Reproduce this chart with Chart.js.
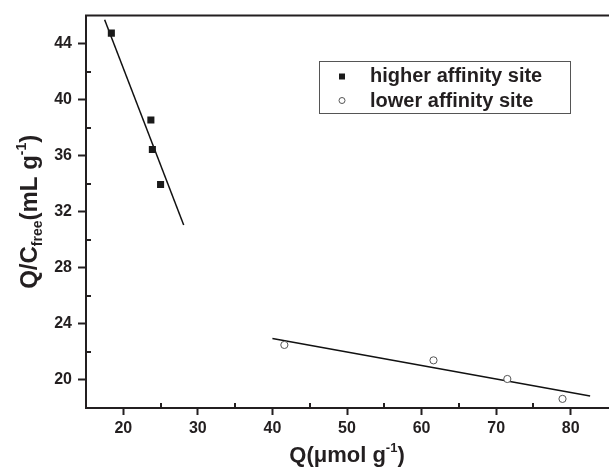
<!DOCTYPE html>
<html><head><meta charset="utf-8">
<script src="https://cdn.jsdelivr.net/npm/chart.js@4"></script>
<style>html,body{margin:0;padding:0;overflow:hidden;background:#fff}</style>
</head><body>
<canvas id="c" width="613" height="469"></canvas>
<script>
// ---- data ----
const highQ = [18.4, 23.7, 23.9, 25.0];
const highQC = [44.75, 38.55, 36.45, 33.95];
const lowQ = [41.6, 61.6, 71.5, 78.9];
const lowQC = [22.5, 21.4, 20.07, 18.65];
const highFitQ = [17.5, 28.1];
const highFitQC = [45.7, 31.06];
const lowFitQ = [40.0, 82.6];
const lowFitQC = [22.96, 18.86];
const xTicks = [20, 30, 40, 50, 60, 70, 80];
const yTicks = [20, 24, 28, 32, 36, 40, 44];
const xMinorTicks = [25, 35, 45, 55, 65, 75];
const yMinorTicks = [22, 26, 30, 34, 38, 42];
const seriesLabels = ['higher affinity site', 'lower affinity site'];

const FAMILY = "'Liberation Sans', Arial, Helvetica, sans-serif";
const INK = '#231f20';
const tickFont = {family: FAMILY, weight: 'bold', size: 16};

function pts(xs, ys) { return xs.map((x, i) => ({x: x, y: ys[i]})); }

const decor = {
  id: 'decor',
  afterDraw(chart) {
    const ctx = chart.ctx, ca = chart.chartArea;
    const xs = chart.scales.x, ys = chart.scales.y;
    ctx.save();
    // top frame line
    ctx.strokeStyle = INK; ctx.lineWidth = 2;
    ctx.beginPath(); ctx.moveTo(ca.left - 1, ca.top); ctx.lineTo(ca.right + 2, ca.top); ctx.stroke();
    // minor ticks (inward)
    ctx.lineWidth = 2;
    ctx.beginPath();
    xMinorTicks.forEach(v => { const px = Math.round(xs.getPixelForValue(v)); ctx.moveTo(px, ca.bottom); ctx.lineTo(px, ca.bottom - 5); });
    yMinorTicks.forEach(v => { const py = Math.round(ys.getPixelForValue(v)); ctx.moveTo(ca.left, py); ctx.lineTo(ca.left + 5, py); });
    ctx.stroke();

    // axis titles
    ctx.fillStyle = INK;
    function drawRich(parts, cx, base) {
      let total = 0;
      parts.forEach(p => { ctx.font = 'bold ' + p.size + 'px ' + FAMILY; p.w = ctx.measureText(p.t).width; total += p.w; });
      let x = cx - total / 2;
      ctx.textBaseline = 'alphabetic'; ctx.textAlign = 'left';
      parts.forEach(p => { ctx.font = 'bold ' + p.size + 'px ' + FAMILY; ctx.fillText(p.t, x, base + (p.dy || 0)); x += p.w; });
    }
    drawRich([
      {t: 'Q(\u03bcmol g', size: 22},
      {t: '-1', size: 13, dy: -10},
      {t: ')', size: 22}
    ], (ca.left + ca.right) / 2, 462);

    ctx.save();
    ctx.translate(37, (ca.top + ca.bottom) / 2);
    ctx.rotate(-Math.PI / 2);
    drawRich([
      {t: 'Q/C', size: 24},
      {t: 'free', size: 14, dy: 5},
      {t: '(mL g', size: 24},
      {t: '-1', size: 14, dy: -11},
      {t: ')', size: 24}
    ], 0, 0);
    ctx.restore();

    // legend
    ctx.lineWidth = 1; ctx.strokeStyle = '#555';
    ctx.strokeRect(319.5, 61.5, 251, 52);
    ctx.fillStyle = '#1a1a1a';
    ctx.fillRect(339, 73.5, 6, 6);
    ctx.fillStyle = '#fff'; ctx.strokeStyle = '#555';
    ctx.beginPath(); ctx.arc(342, 100.5, 3, 0, Math.PI * 2); ctx.fill(); ctx.stroke();
    ctx.fillStyle = INK;
    ctx.font = 'bold 20px ' + FAMILY; ctx.textAlign = 'left'; ctx.textBaseline = 'alphabetic';
    ctx.fillText(chart.data.datasets[0].label, 370, 82);
    ctx.fillText(chart.data.datasets[1].label, 370, 106.5);
    ctx.restore();
  }
};

new Chart(document.getElementById('c'), {
  type: 'scatter',
  data: {
    datasets: [
      {label: seriesLabels[0], data: pts(highQ, highQC), pointStyle: 'rect', pointRadius: 5,
       backgroundColor: '#1a1a1a', borderColor: '#1a1a1a', borderWidth: 0},
      {label: seriesLabels[1], data: pts(lowQ, lowQC), pointStyle: 'circle', pointRadius: 3.6,
       backgroundColor: '#fff', borderColor: '#555', borderWidth: 1},
      {label: 'fit high', data: pts(highFitQ, highFitQC), showLine: true, pointRadius: 0,
       borderColor: '#111', borderWidth: 1.5, fill: false},
      {label: 'fit low', data: pts(lowFitQ, lowFitQC), showLine: true, pointRadius: 0,
       borderColor: '#111', borderWidth: 1.5, fill: false}
    ]
  },
  options: {
    responsive: false,
    animation: false,
    layout: {padding: {top: 14, left: 0, right: 0, bottom: 0}},
    plugins: {legend: {display: false}, tooltip: {enabled: false}},
    scales: {
      x: {
        type: 'linear', min: 15, max: 85,
        afterBuildTicks: s => { s.ticks = xTicks.map(v => ({value: v})); },
        afterFit: s => { s.height = 61; },
        ticks: {font: tickFont, color: INK, padding: 4},
        grid: {display: true, drawOnChartArea: false, drawTicks: true, tickLength: 7, tickWidth: 2, tickColor: INK, color: INK},
        border: {display: true, width: 2, color: INK}
      },
      y: {
        type: 'linear', min: 18, max: 46,
        afterBuildTicks: s => { s.ticks = yTicks.map(v => ({value: v})); },
        afterFit: s => { s.width = 86; },
        ticks: {font: tickFont, color: INK, padding: 6},
        grid: {display: true, drawOnChartArea: false, drawTicks: true, tickLength: 8, tickWidth: 2, tickColor: INK, color: INK},
        border: {display: true, width: 2, color: INK}
      }
    }
  },
  plugins: [decor]
});
</script>
</body></html>
